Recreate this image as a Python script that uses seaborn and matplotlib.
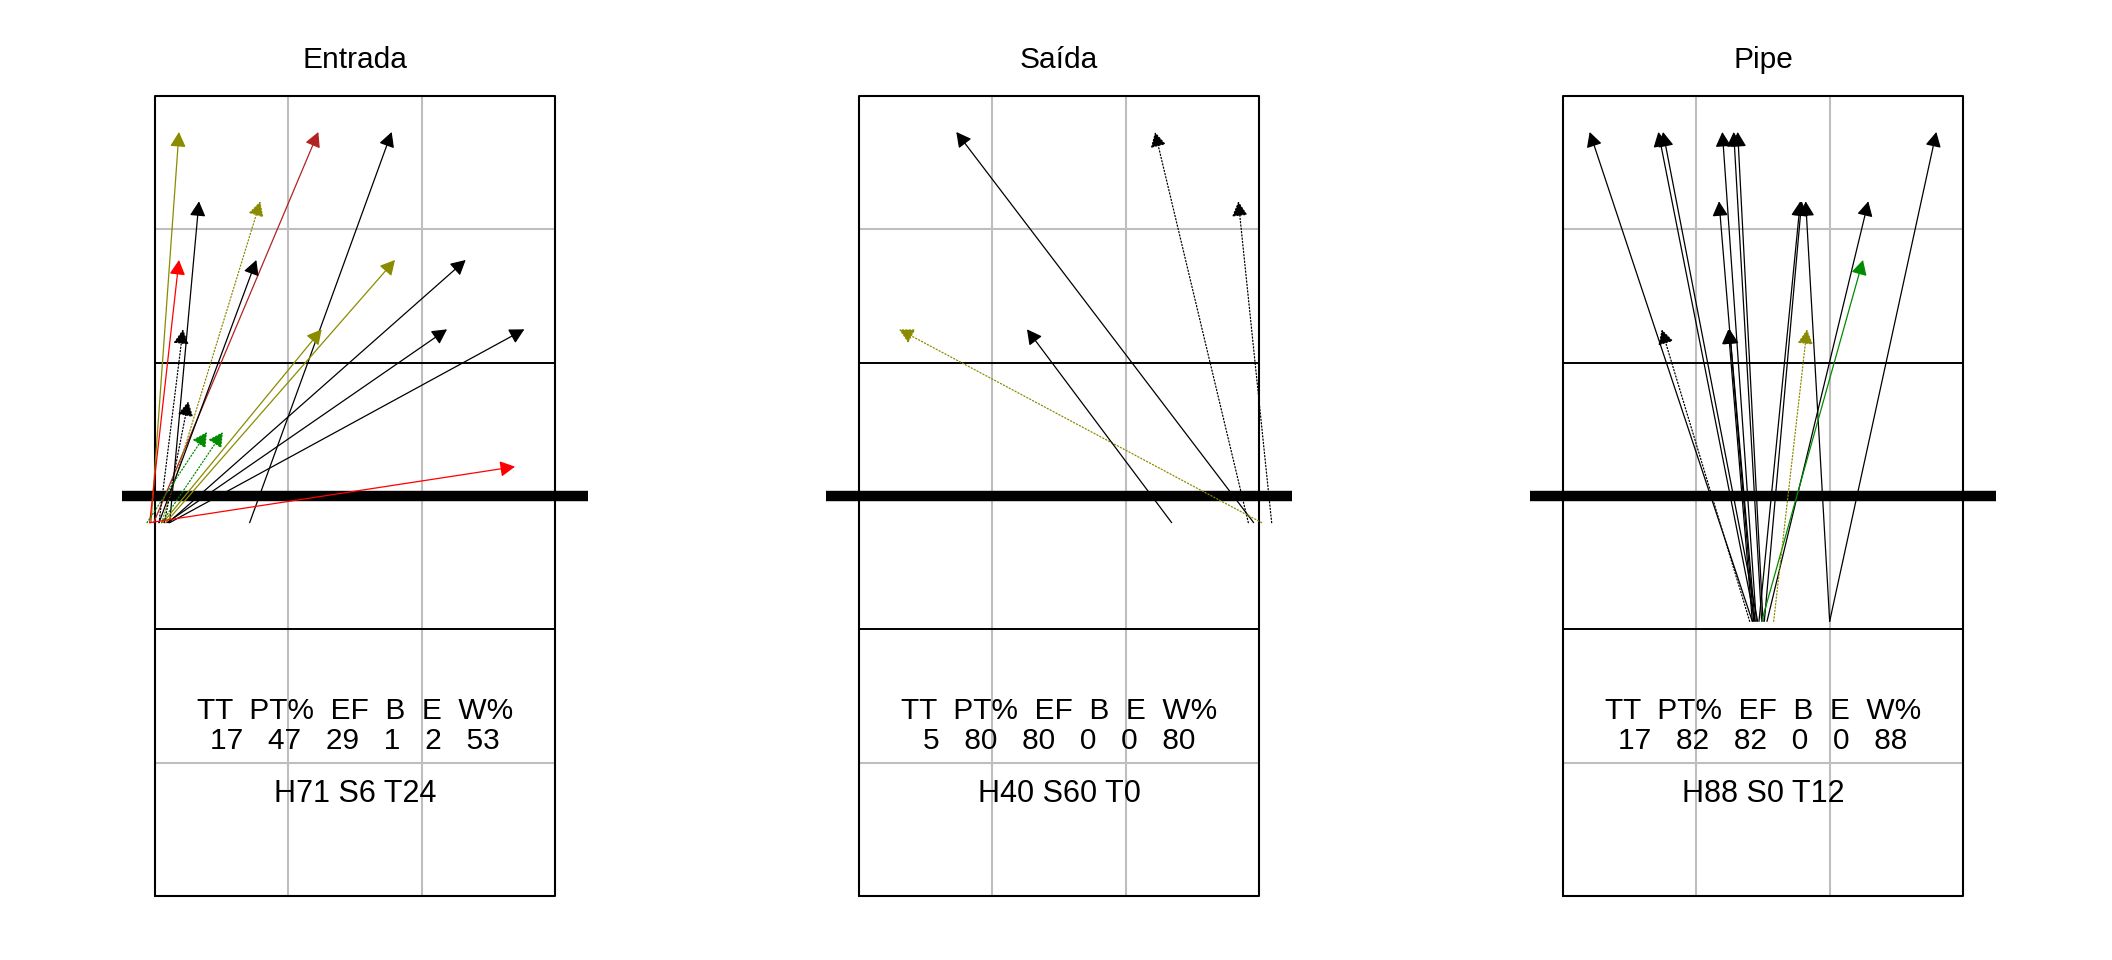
import matplotlib
matplotlib.use("Agg")
import matplotlib.pyplot as plt
import seaborn as sns
import pandas as pd

sns.set_theme(style="white")
plt.rcParams['font.family'] = ['Liberation Sans', 'DejaVu Sans']
plt.rcParams['text.color'] = 'black'

titles = ["Entrada", "Saída", "Pipe"]

# court units: x 0..3 across, y 0..6 long, net at y=3 (1 unit = 3 m)
# Entrada
ent_x0 = [-0.03, -0.01, 0.71, 0.11, 0.05, -0.04, 0.03, 0.08, 0.10, 0.03, 0.06, 0.09, 0.11, 0.07, -0.06, 0.05, -0.04]
ent_y0 = [2.80, 2.80, 2.80, 2.80, 2.80, 2.80, 2.80, 2.80, 2.80, 2.80, 2.80, 2.80, 2.80, 2.80, 2.80, 2.80, 2.80]
ent_x1 = [0.18, 1.225, 1.775, 0.33, 0.79, 0.18, 0.76, 1.80, 2.33, 0.21, 1.25, 2.19, 2.77, 0.25, 0.39, 0.51, 2.70]
ent_y1 = [5.73, 5.73, 5.73, 5.21, 5.21, 4.77, 4.77, 4.77, 4.77, 4.25, 4.25, 4.25, 4.25, 3.71, 3.48, 3.48, 3.22]
ent_code = ['o', 'b', 'k', 'k', 'o:', 'r', 'k', 'o', 'k', 'k:', 'o', 'k', 'k', 'k:', 'g:', 'g:', 'r']

# Saida
sai_x0 = [2.96, 2.92, 3.095, 3.02, 2.345]
sai_y0 = [2.80, 2.80, 2.80, 2.80, 2.80]
sai_x1 = [0.73, 2.22, 2.845, 0.30, 1.26]
sai_y1 = [5.73, 5.73, 5.21, 4.25, 4.25]
sai_code = ['k', 'k:', 'k:', 'o:', 'k']

# Pipe
pip_x0 = [1.42, 1.44, 1.46, 1.45, 1.49, 1.50, 2.00, 1.43, 1.47, 1.51, 2.00, 1.53, 1.49, 1.40, 1.42, 1.44, 1.58]
pip_y0 = [2.06, 2.06, 2.06, 2.06, 2.06, 2.06, 2.06, 2.06, 2.06, 2.06, 2.06, 2.06, 2.06, 2.06, 2.06, 2.06, 2.06]
pip_x1 = [0.20, 0.715, 0.75, 1.195, 1.28, 1.31, 2.80, 1.17, 1.78, 1.79, 1.82, 2.29, 2.25, 0.74, 1.24, 1.25, 1.83]
pip_y1 = [5.73, 5.73, 5.73, 5.73, 5.73, 5.73, 5.73, 5.21, 5.21, 5.21, 5.21, 5.21, 4.77, 4.25, 4.25, 4.25, 4.25]
pip_code = ['k', 'k', 'k', 'k', 'k', 'k', 'k', 'k', 'k', 'k', 'k', 'k', 'g', 'k:', 'k', 'k', 'o:']

stat_tt = [17, 5, 17]
stat_pt = [47, 80, 82]
stat_ef = [29, 80, 82]
stat_b = [1, 0, 0]
stat_e = [2, 0, 0]
stat_w = [53, 80, 88]
stat_h = [71, 40, 88]
stat_s = [6, 60, 0]
stat_t = [24, 0, 12]

panels = [
    pd.DataFrame({'x0': ent_x0, 'y0': ent_y0, 'x1': ent_x1, 'y1': ent_y1, 'code': ent_code}),
    pd.DataFrame({'x0': sai_x0, 'y0': sai_y0, 'x1': sai_x1, 'y1': sai_y1, 'code': sai_code}),
    pd.DataFrame({'x0': pip_x0, 'y0': pip_y0, 'x1': pip_x1, 'y1': pip_y1, 'code': pip_code}),
]

olive = '#8B8B00'
look = {
    'k': ('black', '-'), 'k:': ('black', ':'),
    'o': (olive, '-'), 'o:': (olive, ':'),
    'r': ('#FF0000', '-'), 'b': ('#B22222', '-'),
    'g': ('#008B00', '-'), 'g:': ('#008B00', ':'),
}
gray = '#BEBEBE'

fig = plt.figure(figsize=(21.12, 9.6), dpi=100)
lefts = [155, 859, 1563]

for i, df in enumerate(panels):
    ax = fig.add_axes([lefts[i] / 2112, 64 / 960, 400 / 2112, 800 / 960])
    ax.set_xlim(0, 3)
    ax.set_ylim(0, 6)
    ax.set_axis_off()

    for gx in [1, 2]:
        ax.plot([gx, gx], [0, 6], color=gray, lw=1.5, zorder=1)
    for gy in [1, 5]:
        ax.plot([0, 3], [gy, gy], color=gray, lw=1.5, zorder=1)
    for by in [2, 4]:
        ax.plot([0, 3], [by, by], color='black', lw=1.4, zorder=2)
    ax.plot([0, 3, 3, 0, 0], [0, 0, 6, 6, 0], color='black', lw=1.5,
            clip_on=False, zorder=2)
    ax.plot([-0.25, 3.25], [3, 3], color='black', lw=7.5,
            solid_capstyle='butt', clip_on=False, zorder=3)

    for _, r in df.iterrows():
        c, ls = look[r['code']]
        ax.annotate("", xy=(r['x1'], r['y1']), xytext=(r['x0'], r['y0']),
                    arrowprops=dict(arrowstyle="-|>,head_length=0.6,head_width=0.32",
                                    mutation_scale=15, color=c, lw=0.9,
                                    linestyle=ls, shrinkA=0, shrinkB=0),
                    annotation_clip=False, zorder=4)

    ax.text(1.5, 6.21, titles[i], ha='center', va='baseline', fontsize=21.5,
            color='black', clip_on=False)
    ax.text(1.5, 1.325, "TT  PT%  EF  B  E  W%", ha='center', va='baseline',
            fontsize=21.5, color='black')
    nums = [stat_tt[i], stat_pt[i], stat_ef[i], stat_b[i], stat_e[i], stat_w[i]]
    ax.text(1.5, 1.105, "   ".join(str(v) for v in nums), ha='center',
            va='baseline', fontsize=21.5, color='black')
    ax.text(1.5, 0.705, f"H{stat_h[i]} S{stat_s[i]} T{stat_t[i]}", ha='center',
            va='baseline', fontsize=22, color='black')

fig.savefig("out.png", dpi=100)
